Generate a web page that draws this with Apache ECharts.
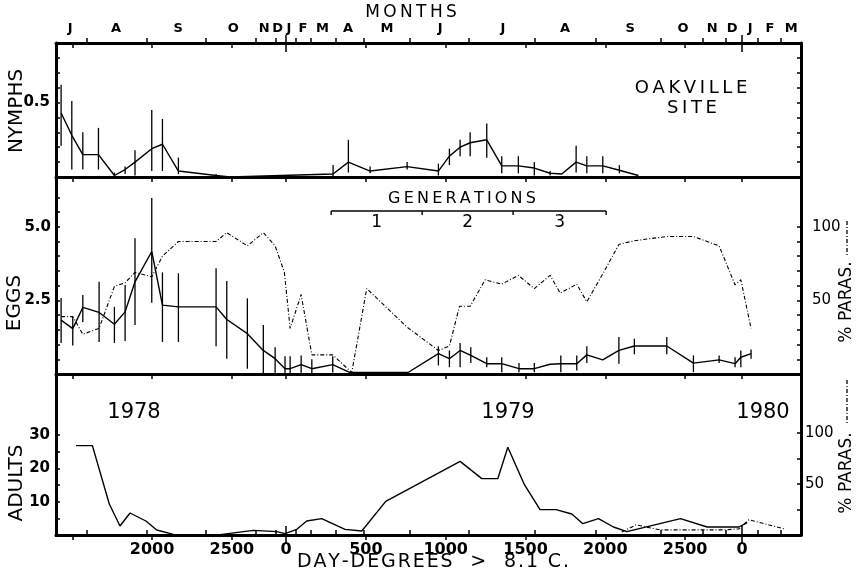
<!DOCTYPE html>
<html><head><meta charset="utf-8">
<script src="https://cdn.jsdelivr.net/npm/echarts@6/dist/echarts.min.js"></script>
<style>html,body{margin:0;padding:0;background:#fff}#c{width:856px;height:574px}</style>
</head><body><div id="c"></div>
<script>
// x values: cumulative day-degrees > 8.1 C (1978 season as is, 1979 season +2840, 1980 season +5697)
const X_MIN = 1398, X_MAX = 6066;
const ddTickVals   = [1500, 2000, 2500, 2840, 3340, 3840, 4340, 4840, 5340, 5697];
const ddTickLabels = ['', '2000', '2500', '0', '500', '1000', '1500', '2000', '2500', '0'];
const ddZeroVals   = [2840, 5697];
const monthTicks   = [1591, 1967, 2336, 2652, 2774, 2840, 2902, 2994, 3153, 3324, 3617, 3982, 4400, 4780, 5187, 5451, 5597, 5697, 5797, 5937];
const monthLabelPos = [1486, 1774, 2163, 2508, 2702, 2786, 2858, 2946, 3068, 3228, 3472, 3805, 4199, 4588, 4995, 5327, 5509, 5634, 5747, 5872, 6004];
const monthNames   = ['J','A','S','O','N','D','J','F','M','A','M','J','J','A','S','O','N','D','J','F','M'];
const generationBounds = [3122, 3692, 4262, 4845];
const generationNames = ['1', '2', '3'];

// y tick marks / labels
const nymphTicks = [0.1,0.2,0.3,0.4,0.5,0.6,0.7,0.8], nymphLabels = [0.5];
const eggTicks = [0.5,1,1.5,2,2.5,3,3.5,4,4.5,5,5.5,6], eggLabels = [2.5,5];
const parasEggTicks = [10,20,30,40,50,60,70,80,90,100], parasEggLabels = [50,100];
const adultTicks = [5,10,15,20,25,30], adultLabels = [10,20,30];
const parasAdultTicks = [25,50,75,100], parasAdultLabels = [50,100];

// NYMPHS (mean, with error bar low/high)
const nymphDD   = [1430,1497,1566,1664,1764,1831,1893,1998,2065,2165,2401,2489,3134,3230,3366,3598,3794,3863,3930,3993,4097,4191,4295,4395,4494,4567,4657,4724,4824,4928,5047];
const nymphMean = [0.43,0.28,0.15,0.15,0.01,0.05,0.10,0.19,0.22,0.04,0.01,0.0,0.02,0.10,0.04,0.07,0.04,0.14,0.20,0.23,0.25,0.075,0.075,0.06,0.025,0.02,0.10,0.075,0.075,0.045,0.01];
const nymphLow  = [0.21,0.05,0.05,0.05,0,0.02,0.01,0.04,0.04,0.02,0,null,0,0.03,0.025,0.05,0.01,0.08,0.14,0.14,0.13,0.025,0.025,0.01,0.01,null,0.03,0.025,0.025,0.025,null];
const nymphHigh = [0.62,0.51,0.30,0.33,0.03,0.07,0.18,0.45,0.39,0.13,0.02,null,0.08,0.25,0.07,0.10,0.09,0.19,0.25,0.30,0.36,0.14,0.14,0.10,0.04,null,0.21,0.14,0.14,0.08,null];

// EGGS
const eggDD   = [1430,1503,1566,1668,1764,1831,1893,1998,2065,2165,2401,2468,2597,2697,2771,2833,2865,2934,3001,3132,3241,3604,3794,3863,3930,3997,4097,4191,4299,4395,4494,4561,4661,4724,4824,4925,5022,5225,5392,5553,5653,5689,5753];
const eggMean = [1.83,1.54,2.26,2.09,1.69,2.11,3.13,4.16,2.34,2.28,2.28,1.85,1.37,0.80,0.52,0.18,0.18,0.32,0.18,0.32,0.05,0.05,0.69,0.52,0.80,0.63,0.35,0.35,0.18,0.18,0.33,0.35,0.35,0.65,0.48,0.80,0.95,0.95,0.37,0.48,0.35,0.57,0.69];
const eggLow  = [1.05,0.97,1.77,1.09,1.05,1.12,1.66,2.42,1.09,1.09,0.94,0.52,0.18,0,0,0.03,0.03,0.03,0.03,0.05,null,null,0.29,0.23,0.23,0.37,0.23,0.06,0.06,0.06,null,0.06,0.12,0.37,null,0.35,0.67,0.67,0.06,0.37,0.23,0.23,0.52];
const eggHigh = [2.58,1.94,2.68,3.13,2.28,3.02,4.61,5.98,3.45,3.42,3.59,3.16,2.57,1.66,0.91,0.6,0.6,0.63,0.5,0.6,null,null,0.94,0.80,1.05,0.91,0.57,0.57,0.37,0.37,null,0.63,0.63,0.94,null,1.26,1.2,1.26,0.63,0.63,0.57,0.80,0.83];

// % parasitized eggs
const parasEggDD = [1430,1503,1566,1668,1764,1831,1893,1998,2065,2165,2401,2468,2597,2697,2771,2829,2865,2934,3001,3132,3251,3345,3596,3794,3863,3926,3993,4087,4191,4295,4395,4494,4557,4661,4724,4824,4925,5022,5225,5392,5553,5653,5689,5753];
const parasEgg   = [39,39,27,31,59.5,62,69,66,80,90,90,96,87,96,87,69,31,54,13,13,1,58,32,16,19,46,46,64,61,67,58,67,55,61,49,68,88,90.5,93.4,93.4,87,60.5,64,31];

// ADULTS
const adultDD   = [1524,1626,1732,1799,1862,1961,2029,2133,2426,2635,2781,2833,2907,2969,3063,3209,3314,3464,3930,4066,4166,4229,4333,4431,4531,4630,4699,4797,4891,4975,5311,5478,5677,5729];
const adultVals = [26.8,26.8,9.3,2.7,6.6,4.2,1.5,0.2,0.1,1.4,1.0,0.4,1.7,4.2,4.9,1.7,1.2,10.1,22.1,16.9,16.9,26.3,15.1,7.6,7.6,6.3,3.4,4.9,2.4,1.0,4.9,2.4,2.4,3.7];

// % parasitized adults
const parasAdultDD = [4943,5033,5183,5578,5677,5740,5960];
const parasAdult   = [3,10,5,5,6,15,6];

const FONT = 'DejaVu Sans';
const BLACK = '#000';
const zip = (a, b) => a.map((v, i) => [v, b[i]]);
const bars = (x, lo, hi) => x.map((v, i) => [v, lo[i], hi[i]]).filter(d => d[1] !== null && d[2] !== null);

function xAxis(o) {
  return {
    type: 'value', min: X_MIN, max: X_MAX, gridIndex: o.grid, position: o.pos,
    splitLine: { show: false },
    axisLine: { show: !!o.line, onZero: false, lineStyle: { color: BLACK, width: 3 } },
    axisTick: o.ticks ? { show: true, customValues: o.ticks, inside: !!o.inside, length: o.len || 5, lineStyle: { color: BLACK, width: 1.5 } } : { show: false },
    axisLabel: o.labels ? Object.assign({ show: true, color: BLACK, fontFamily: FONT, hideOverlap: false }, o.labels) : { show: false }
  };
}
function yAxis(o) {
  return {
    type: 'value', min: 0, max: o.max, gridIndex: o.grid, position: o.pos,
    splitLine: { show: false },
    axisLine: { show: true, onZero: false, lineStyle: { color: BLACK, width: 3 } },
    axisTick: { show: true, customValues: o.ticks, inside: true, length: 4, lineStyle: { color: BLACK, width: 1.5 } },
    axisLabel: o.labels ? Object.assign({ show: true, color: BLACK, fontFamily: FONT, hideOverlap: false }, o.labels) : { show: false }
  };
}
const nearestIdx = (arr, v) => { let b = 0; arr.forEach((a, i) => { if (Math.abs(a - v) < Math.abs(arr[b] - v)) b = i; }); return b; };

const grids = [
  { left: 56, right: 55, top: 43, height: 134, outerBoundsMode: 'none' },
  { left: 56, right: 55, top: 177, height: 197, outerBoundsMode: 'none' },
  { left: 56, right: 55, top: 374, height: 161, outerBoundsMode: 'none' }
];

const xAxes = [
  xAxis({ grid: 0, pos: 'top', line: true, ticks: ddTickVals, inside: true }),             // 0
  xAxis({ grid: 0, pos: 'top', ticks: monthTicks, inside: false,
          labels: { customValues: monthLabelPos, fontSize: 13, fontWeight: 'bold', margin: 8,
                    formatter: v => monthNames[nearestIdx(monthLabelPos, v)] } }),         // 1
  xAxis({ grid: 0, pos: 'top', ticks: ddZeroVals, inside: true, len: 9 }),                 // 2
  xAxis({ grid: 0, pos: 'top', ticks: ddZeroVals, inside: false, len: 8 }),                // 3
  xAxis({ grid: 0, pos: 'bottom', line: true, ticks: ddTickVals, inside: false }),         // 4
  xAxis({ grid: 1, pos: 'bottom', line: true, ticks: ddTickVals, inside: false }),         // 5
  xAxis({ grid: 2, pos: 'bottom', line: true, ticks: ddTickVals, inside: false,
          labels: { customValues: ddTickVals, fontSize: 16, fontWeight: 'bold', margin: 7,
                    formatter: v => ddTickLabels[nearestIdx(ddTickVals, v)] } }),          // 6
  xAxis({ grid: 2, pos: 'bottom', ticks: monthTicks, inside: true }),                      // 7
  xAxis({ grid: 2, pos: 'bottom', ticks: ddZeroVals, inside: true, len: 9 }),              // 8
  xAxis({ grid: 2, pos: 'bottom', ticks: ddZeroVals, inside: false, len: 8 })              // 9
];

const yAxes = [
  yAxis({ grid: 0, pos: 'left', max: 0.9, ticks: nymphTicks,
          labels: { customValues: nymphLabels, fontSize: 15, fontWeight: 'bold', margin: 6, formatter: v => v.toFixed(1) } }),
  yAxis({ grid: 0, pos: 'right', max: 0.9, ticks: nymphTicks }),
  yAxis({ grid: 1, pos: 'left', max: 6.69, ticks: eggTicks,
          labels: { customValues: eggLabels, fontSize: 15, fontWeight: 'bold', margin: 5, formatter: v => v.toFixed(1) } }),
  yAxis({ grid: 1, pos: 'right', max: 133.8, ticks: parasEggTicks,
          labels: { customValues: parasEggLabels, fontSize: 15, margin: 11, formatter: v => String(v) } }),
  yAxis({ grid: 2, pos: 'left', max: 48.3, ticks: adultTicks,
          labels: { customValues: adultLabels, fontSize: 15, fontWeight: 'bold', margin: 6, formatter: v => String(v) } }),
  yAxis({ grid: 2, pos: 'right', max: 158, ticks: parasAdultTicks,
          labels: { customValues: parasAdultLabels, fontSize: 15, margin: 4, formatter: v => String(v) } })
];

const solid = { color: BLACK, width: 1.4 };
const dashDot = { color: BLACK, width: 1.1, type: [4, 2, 1, 2] };
function errSeries(xi, yi, data) {
  return {
    type: 'custom', xAxisIndex: xi, yAxisIndex: yi, data, encode: { x: 0, y: [1, 2] }, silent: true,
    renderItem: (params, api) => {
      const p1 = api.coord([api.value(0), api.value(1)]);
      const p2 = api.coord([api.value(0), api.value(2)]);
      return { type: 'line', shape: { x1: p1[0], y1: p1[1], x2: p2[0], y2: p2[1] }, style: { stroke: BLACK, lineWidth: 1.3 } };
    }
  };
}
const lineSeries = (xi, yi, data, style) => ({
  type: 'line', xAxisIndex: xi, yAxisIndex: yi, data, showSymbol: false, symbol: 'none',
  lineStyle: style, silent: true
});

const series = [
  lineSeries(0, 0, zip(nymphDD, nymphMean), solid),
  errSeries(0, 0, bars(nymphDD, nymphLow, nymphHigh)),
  lineSeries(5, 2, zip(eggDD, eggMean), solid),
  errSeries(5, 2, bars(eggDD, eggLow, eggHigh)),
  lineSeries(5, 3, zip(parasEggDD, parasEgg), dashDot),
  lineSeries(6, 4, zip(adultDD, adultVals), solid),
  lineSeries(6, 5, zip(parasAdultDD, parasAdult), dashDot)
];

const chart = echarts.init(document.getElementById('c'), null, { renderer: 'canvas' });
chart.setOption({ animation: false, backgroundColor: '#fff', grid: grids, xAxis: xAxes, yAxis: yAxes, series });

// annotations
const txt = (text, x, y, size, extra) => Object.assign({
  type: 'text', x, y, silent: true,
  style: { text, fill: BLACK, font: `${(extra && extra.weight) || 'normal'} ${size}px "${FONT}"`, textAlign: 'center', textVerticalAlign: 'middle' }
}, extra && extra.rot ? { rotation: extra.rot } : {});
const R = Math.PI / 2;
const gx = v => chart.convertToPixel({ xAxisIndex: 5 }, v);
const gY = 211;
const gen = [];
gen.push({ type: 'line', silent: true, shape: { x1: gx(generationBounds[0]), y1: gY, x2: gx(generationBounds[3]), y2: gY }, style: { stroke: BLACK, lineWidth: 1.4 } });
generationBounds.forEach(b => gen.push({ type: 'line', silent: true, shape: { x1: gx(b), y1: gY, x2: gx(b), y2: gY + 4 }, style: { stroke: BLACK, lineWidth: 1.4 } }));
generationNames.forEach((n, i) => gen.push(txt(n, (gx(generationBounds[i]) + gx(generationBounds[i + 1])) / 2, 223, 17)));

const th = '\u2009', hs = '\u200A';
const spaced = (s, sep) => s.split('').join(sep);
chart.setOption({
  graphic: [
    txt(spaced('MONTHS', th), 411, 13, 17),
    txt('NYMPHS', 17, 111, 20, { rot: R }),
    txt('EGGS', 15, 303, 20, { rot: R }),
    txt('ADULTS', 17, 483, 20, { rot: R }),
    txt(spaced('OAKVILLE', th), 691, 88, 18),
    txt(spaced('SITE', th), 692, 108, 18),
    txt(spaced('GENERATIONS', th), 462, 199, 16),
    txt('1978', 134, 413, 21),
    txt('1979', 508, 413, 21),
    txt('1980', 763, 413, 21),
    txt(spaced('DAY-DEGREES  >  8.1 C.', hs), 433, 562, 19),
    txt('% PARAS.', 847, 302, 17, { rot: R }),
    { type: 'line', silent: true, shape: { x1: 847, y1: 221, x2: 847, y2: 256 }, style: { stroke: BLACK, lineWidth: 1.3, lineDash: [4, 2, 1, 2] } },
    txt('% PARAS.', 847, 473, 17, { rot: R }),
    { type: 'line', silent: true, shape: { x1: 847, y1: 380, x2: 847, y2: 425 }, style: { stroke: BLACK, lineWidth: 1.3, lineDash: [4, 2, 1, 2] } }
  ].concat(gen)
});
</script>
</body></html>
